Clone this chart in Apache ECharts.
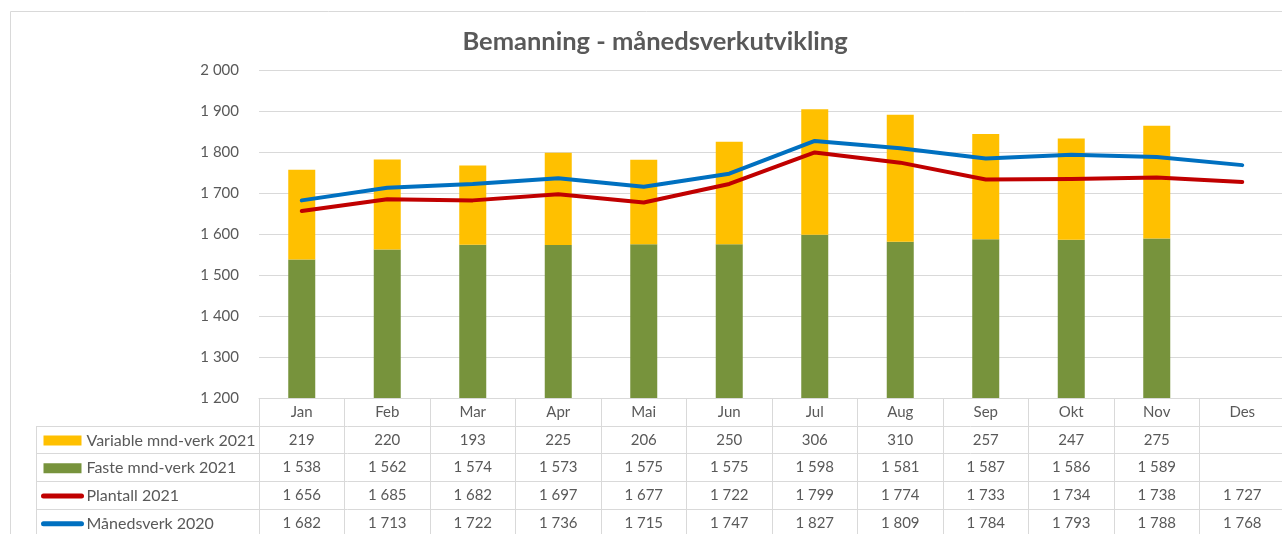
<!DOCTYPE html>
<html lang="no">
<head>
<meta charset="UTF-8" />
<title>Bemanning - månedsverkutvikling</title>
<style>
    * { box-sizing: border-box; margin: 0; padding: 0; }
    html, body { width: 1282px; height: 534px; background: #fff; overflow: hidden; }
    #chart { width: 1282px; height: 534px; }
</style>
</head>
<body>
<div id="chart"></div>
<script src="https://cdn.jsdelivr.net/npm/echarts@6/dist/echarts.min.js"></script>
<script>
    // data
    var months = ['Jan', 'Feb', 'Mar', 'Apr', 'Mai', 'Jun', 'Jul', 'Aug', 'Sep', 'Okt', 'Nov', 'Des']
    var variable2021 = [219, 220, 193, 225, 206, 250, 306, 310, 257, 247, 275, null]
    var faste2021 = [1538, 1562, 1574, 1573, 1575, 1575, 1598, 1581, 1587, 1586, 1589, null]
    var plantall2021 = [1656, 1685, 1682, 1697, 1677, 1722, 1799, 1774, 1733, 1734, 1738, 1727]
    var maanedsverk2020 = [1682, 1713, 1722, 1736, 1715, 1747, 1827, 1809, 1784, 1793, 1788, 1768]
    var yTicks = [1200, 1300, 1400, 1500, 1600, 1700, 1800, 1900, 2000]

    var FONT = 'Lato'
    var TXT = '#595959'
    var LINE = '#d9d9d9'
    var GRID_L = 259 // left edge of plot / table values
    var GRID_T = 70
    var GRID_B = 398 // bottom of plot = top of table
    var ROW_H = 27.7 // height of a data table row
    var TABLE_L = 36

    // 1 538 style numbers
    function fmt(n) {
        if (n === null || n === undefined) return ''
        if (n < 1000) return String(n)
        var rest = String(n % 1000)
        while (rest.length < 3) rest = '0' + rest
        return Math.floor(n / 1000) + ' ' + rest
    }

    var chart = echarts.init(document.getElementById('chart'))

    // data table horizontal lines + outer frame
    var graphics = [
        {
            type: 'rect',
            shape: { x: 10.5, y: 11.5, width: 1400, height: 700 },
            style: { fill: null, stroke: LINE, lineWidth: 1 },
            silent: true
        },
        {
            type: 'line',
            shape: { x1: TABLE_L + 0.5, y1: Math.round(GRID_B + ROW_H), x2: TABLE_L + 0.5, y2: 534 },
            style: { stroke: LINE, lineWidth: 1 },
            silent: true
        }
    ]
    for (var r = 1; r <= 4; r++) {
        var y = Math.round(GRID_B + r * ROW_H) + 0.5
        graphics.push({
            type: 'line',
            shape: { x1: TABLE_L, y1: y, x2: 1282, y2: y },
            style: { stroke: LINE, lineWidth: 1 },
            silent: true
        })
    }

    // hide the little circle ECharts puts on line legend icons
    var noDot = { color: 'rgba(0,0,0,0)', borderWidth: 0 }

    chart.setOption({
        animation: false,
        textStyle: { fontFamily: FONT },
        title: {
            text: 'Bemanning - månedsverkutvikling',
            left: 650,
            top: 24,
            textAlign: 'center',
            textStyle: { fontFamily: FONT, fontSize: 25.5, fontWeight: 'bold', color: TXT }
        },
        graphic: graphics,
        legend: {
            orient: 'vertical',
            left: 41,
            top: GRID_B + 1.5 * ROW_H - 9,
            padding: 0,
            itemGap: ROW_H - 20,
            itemWidth: 38,
            itemHeight: 10,
            textStyle: { fontFamily: FONT, fontSize: 16, color: TXT, lineHeight: 20, height: 20 },
            data: [
                { name: 'Variable mnd-verk 2021', icon: 'rect' },
                { name: 'Faste mnd-verk 2021', icon: 'rect' },
                { name: 'Plantall 2021', itemStyle: noDot, lineStyle: { width: 5, cap: 'round' } },
                { name: 'Månedsverk 2020', itemStyle: noDot, lineStyle: { width: 5, cap: 'round' } }
            ]
        },
        grid: {
            left: GRID_L,
            top: GRID_T,
            width: 1026,
            bottom: 534 - GRID_B,
            outerBoundsMode: 'none',
            containLabel: false
        },
        xAxis: {
            type: 'category',
            data: months,
            boundaryGap: true,
            axisLine: { show: true, lineStyle: { color: LINE, width: 1 } },
            axisTick: { show: true, interval: 0, length: 140, lineStyle: { color: LINE, width: 1 } },
            axisLabel: {
                interval: 0,
                margin: 0,
                fontFamily: FONT,
                fontSize: 15,
                color: TXT,
                lineHeight: 27.8,
                formatter: function (value, idx) {
                    return [
                        value,
                        fmt(variable2021[idx]),
                        fmt(faste2021[idx]),
                        fmt(plantall2021[idx]),
                        fmt(maanedsverk2020[idx])
                    ].join('\n')
                }
            }
        },
        yAxis: {
            type: 'value',
            min: yTicks[0],
            max: yTicks[yTicks.length - 1],
            interval: 100,
            axisLine: { show: false },
            axisTick: { show: false },
            splitLine: { lineStyle: { color: LINE, width: 1 } },
            axisLabel: {
                margin: 20,
                fontFamily: FONT,
                fontSize: 15,
                color: TXT,
                formatter: fmt
            }
        },
        series: [
            {
                name: 'Faste mnd-verk 2021',
                type: 'bar',
                stack: 'mnd',
                barWidth: 27,
                itemStyle: { color: '#77933C' },
                data: faste2021
            },
            {
                name: 'Variable mnd-verk 2021',
                type: 'bar',
                stack: 'mnd',
                barWidth: 27,
                itemStyle: { color: '#FFC000' },
                data: variable2021
            },
            {
                name: 'Plantall 2021',
                type: 'line',
                symbol: 'none',
                lineStyle: { color: '#C00000', width: 4, cap: 'round', join: 'round' },
                itemStyle: { color: '#C00000' },
                data: plantall2021
            },
            {
                name: 'Månedsverk 2020',
                type: 'line',
                symbol: 'none',
                lineStyle: { color: '#0070C0', width: 4, cap: 'round', join: 'round' },
                itemStyle: { color: '#0070C0' },
                data: maanedsverk2020
            }
        ]
    })
</script>
</body>
</html>
